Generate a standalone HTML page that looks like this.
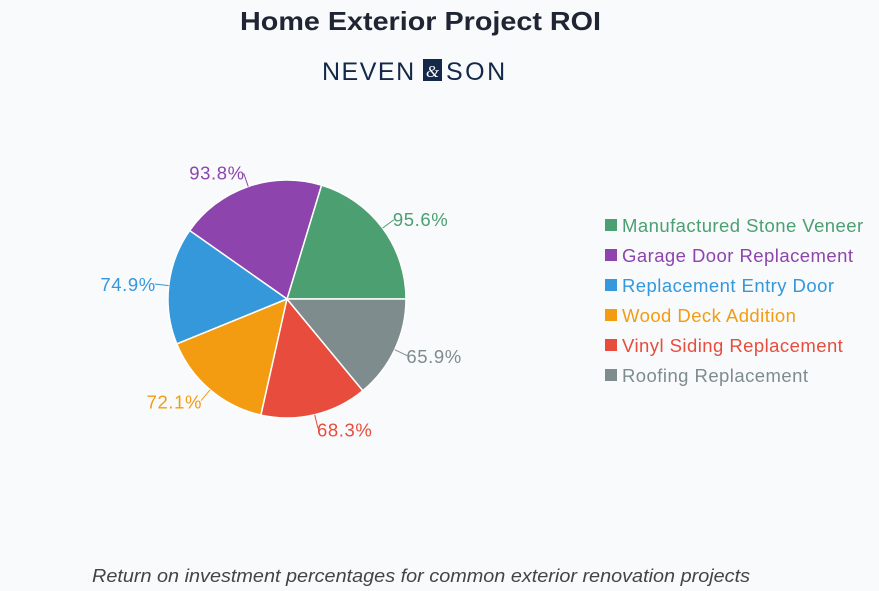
<!DOCTYPE html>
<html><head><meta charset="utf-8"><style>
body{margin:0;background:#f8fafc;font-family:"Liberation Sans",sans-serif;}
svg{display:block}
</style></head><body>
<svg width="879" height="591">
<text x="240" y="30" textLength="361" lengthAdjust="spacingAndGlyphs" font-size="26" font-weight="bold" fill="#1f2533">Home Exterior Project ROI</text>
<g>
<text x="322" y="80" font-size="25" fill="#14284a" letter-spacing="1.5">NEVEN</text>
<rect x="423" y="59" width="19" height="22" fill="#14284a"/>
<text x="432.5" y="77" text-anchor="middle" font-size="17" font-style="italic" fill="#f8fafc" font-family="Liberation Serif,serif">&amp;</text>
<text x="446" y="80" font-size="25" fill="#14284a" letter-spacing="2.5">SON</text>
</g>
<g id="pie"></g>
<g id="legend"></g>
<text x="92" y="582" textLength="658" lengthAdjust="spacingAndGlyphs" font-size="18" font-style="italic" fill="#444">Return on investment percentages for common exterior renovation projects</text>
</svg>
<script>
const categories=["Manufactured Stone Veneer","Garage Door Replacement","Replacement Entry Door","Wood Deck Addition","Vinyl Siding Replacement","Roofing Replacement"];
const values=[95.6,93.8,74.9,72.1,68.3,65.9];
const colors=["#4c9f70","#8e44ad","#3498db","#f39c12","#e74c3c","#7f8c8d"];
const NS="http://www.w3.org/2000/svg";
const cx=287,cy=299,r=119;
const total=values.reduce((a,b)=>a+b,0);
const pie=document.getElementById('pie');
const leg=document.getElementById('legend');
function mk(t,a,p){const e=document.createElementNS(NS,t);for(const k in a)e.setAttribute(k,a[k]);p.appendChild(e);return e;}
let ang=0;
values.forEach((v,i)=>{
  const a0=ang,a1=ang+v/total*2*Math.PI;ang=a1;
  const x0=cx+r*Math.cos(a0),y0=cy-r*Math.sin(a0),x1=cx+r*Math.cos(a1),y1=cy-r*Math.sin(a1);
  const large=(a1-a0)>Math.PI?1:0;
  const p=mk('path',{d:`M${cx},${cy}L${x0},${y0}A${r},${r} 0 ${large} 0 ${x1},${y1}Z`,fill:colors[i],stroke:'#fff','stroke-width':1.5},pie);
  
  
  const m=(a0+a1)/2,c=Math.cos(m),s=Math.sin(m);
  const l=mk('line',{x1:cx+r*c,y1:cy-r*s,x2:cx+(r+14)*c,y2:cy-(r+14)*s,stroke:colors[i],'stroke-width':1},pie);
  
  
  const t=mk('text',{x:cx+(r+14)*c+(c>=0?-1:1),y:cy-(r+15)*s+7,'text-anchor':c>=0?'start':'end','font-size':18.5,'letter-spacing':0.6,fill:colors[i]},pie);
  t.textContent=v.toFixed(1)+'%';
  
  
  const ly=225+i*30;
  const sq=mk('rect',{x:605,y:ly-6,width:12,height:12,fill:colors[i]},leg);
  
  
  const lt=mk('text',{x:622,y:ly+7,'font-size':18.5,'letter-spacing':0.45,fill:colors[i]},leg);
  lt.textContent=categories[i];
  
  
});
</script>
</body></html>
